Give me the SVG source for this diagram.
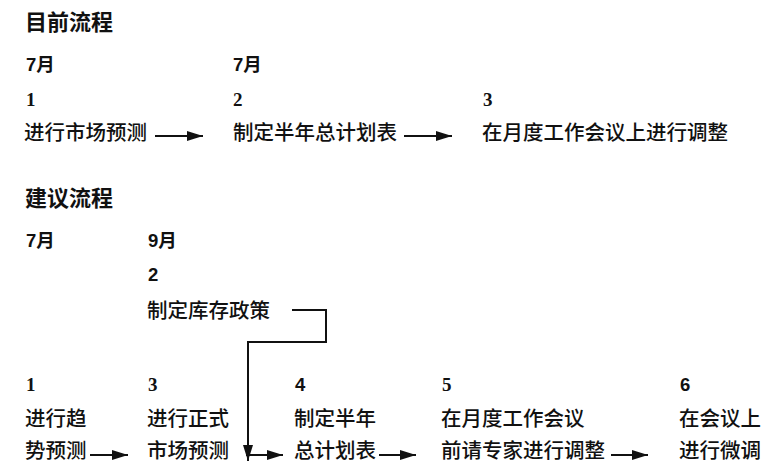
<svg xmlns="http://www.w3.org/2000/svg" width="769" height="469" viewBox="0 0 769 469">
<style>
.t{font-family:"Noto Sans CJK SC","Noto Sans",sans-serif;font-size:20.5px;font-weight:500;fill:#111}
.h{font-family:"Noto Sans CJK SC","Noto Sans",sans-serif;font-size:22px;font-weight:bold;fill:#111}
.m{font-family:"Liberation Sans","Noto Sans CJK SC",sans-serif;font-size:18.5px;font-weight:bold;fill:#111}
.n{font-family:"Liberation Serif","Noto Sans CJK SC",serif;font-size:19px;font-weight:bold;fill:#111}
.c{fill:none;stroke:#111;stroke-width:2}
</style>
<defs>
<marker id="ahl" viewBox="0 0 16 10" refX="16" refY="5" markerWidth="16" markerHeight="10" markerUnits="userSpaceOnUse" orient="auto">
<path d="M0,0 L16,5 L0,10 Z" fill="#111"/>
</marker>
</defs>
<rect width="769" height="469" fill="#fff"/>
<g id="titles">
<text class="h" x="25" y="30">目前流程</text>
<text class="h" x="25" y="206">建议流程</text>
</g>
<g id="cur1">
<text class="m" x="26" y="71">7月</text>
<text class="n" x="26" y="106">1</text>
<text class="t" x="24" y="140">进行市场预测</text>
</g>
<g id="cur2">
<text class="m" x="233" y="71">7月</text>
<text class="n" x="233" y="106">2</text>
<text class="t" x="233" y="140">制定半年总计划表</text>
</g>
<g id="cur3">
<text class="n" x="483" y="106">3</text>
<text class="t" x="482" y="140">在月度工作会议上进行调整</text>
</g>
<g id="prop1">
<text class="m" x="26" y="247">7月</text>
<text class="n" x="26" y="391">1</text>
<text class="t" x="25" y="426">进行趋</text>
<text class="t" x="25" y="458">势预测</text>
</g>
<g id="prop2">
<text class="m" x="148" y="247">9月</text>
<text class="m" x="148" y="281">2</text>
<text class="t" x="147" y="318">制定库存政策</text>
</g>
<g id="prop3">
<text class="n" x="148" y="391">3</text>
<text class="t" x="147" y="426">进行正式</text>
<text class="t" x="147" y="458">市场预测</text>
</g>
<g id="prop4">
<text class="m" x="295" y="391">4</text>
<text class="t" x="294" y="426">制定半年</text>
<text class="t" x="294" y="458">总计划表</text>
</g>
<g id="prop5">
<text class="n" x="442" y="391">5</text>
<text class="t" x="441" y="426">在月度工作会议</text>
<text class="t" x="441" y="458">前请专家进行调整</text>
</g>
<g id="prop6">
<text class="m" x="680" y="391">6</text>
<text class="t" x="679" y="426">在会议上</text>
<text class="t" x="679" y="458">进行微调</text>
</g>
<g id="connectors">
<line class="c" x1="155" y1="136" x2="203" y2="136" marker-end="url(#ahl)"/>
<line class="c" x1="404" y1="136" x2="452" y2="136" marker-end="url(#ahl)"/>
<line class="c" x1="90" y1="455" x2="128" y2="455" marker-end="url(#ahl)"/>
<line class="c" x1="246" y1="455" x2="283" y2="455" marker-end="url(#ahl)"/>
<line class="c" x1="379" y1="455" x2="416" y2="455" marker-end="url(#ahl)"/>
<line class="c" x1="611" y1="455" x2="648" y2="455" marker-end="url(#ahl)"/>
<polyline class="c" points="292,310 326,310 326,342 248,342 248,461" marker-end="url(#ahl)"/>
</g>
</svg>
